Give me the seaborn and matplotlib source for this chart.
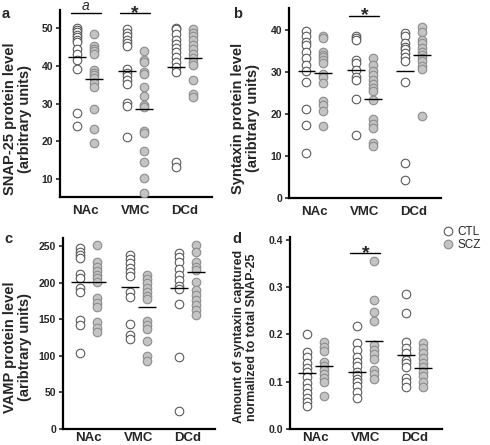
import matplotlib
matplotlib.use("Agg")
import matplotlib.pyplot as plt
from matplotlib.lines import Line2D
import seaborn as sns
import pandas as pd
import numpy as np

regions = ["NAc", "VMC", "DCd"]
groups = ["CTL", "SCZ"]

# a: SNAP-25, one list per region (NAc, VMC, DCd)
snap25_ctl = [
    [50.2, 49.5, 48.9, 48.3, 47.7, 47.0, 46.4, 44.4, 43.3, 41.7, 39.1, 27.6, 24.0],
    [49.7, 48.8, 47.9, 47.0, 46.1, 45.2, 39.1, 38.2, 37.3, 36.2, 35.2, 30.1, 29.3, 21.2],
    [50.2, 49.8, 48.6, 47.0, 45.9, 44.9, 43.7, 42.4, 41.1, 39.7, 38.4, 14.6, 13.3],
]
snap25_scz = [
    [48.4, 45.2, 44.6, 44.0, 43.3, 38.9, 38.2, 37.5, 36.9, 35.5, 34.5, 28.5, 23.4, 19.5],
    [43.9, 41.5, 41.1, 38.4, 37.8, 34.3, 32.0, 29.6, 29.2, 22.8, 22.1, 17.5, 14.4, 10.4, 6.4],
    [49.7, 48.8, 47.9, 46.8, 45.7, 44.4, 43.3, 42.1, 41.1, 40.2, 36.2, 32.7, 31.8],
]
snap25_mean_ctl = [42.4, 38.7, 39.7]
snap25_mean_scz = [36.5, 28.5, 42.0]

# b: syntaxin
stx_ctl = [
    [39.8, 38.6, 37.2, 36.4, 34.8, 33.3, 31.7, 30.1, 27.7, 21.2, 17.4, 10.7],
    [38.6, 38.0, 37.5, 32.9, 32.2, 30.5, 28.8, 28.1, 23.5, 15.0],
    [39.2, 38.6, 36.8, 36.0, 35.4, 34.5, 33.5, 32.5, 27.7, 8.3, 4.3],
]
stx_scz = [
    [38.6, 38.0, 34.8, 34.1, 33.5, 32.9, 32.2, 29.5, 28.8, 27.3, 23.0, 22.2, 20.8, 17.2],
    [33.3, 31.7, 30.1, 29.3, 28.1, 27.2, 26.2, 25.4, 23.4, 18.8, 17.7, 16.7, 13.1, 12.3],
    [40.6, 39.6, 37.5, 36.8, 35.7, 34.8, 34.1, 33.3, 32.5, 31.4, 30.6, 19.4],
]
stx_mean_ctl = [30.2, 30.4, 30.3]
stx_mean_scz = [29.8, 23.5, 34.0]

# c: VAMP
vamp_ctl = [
    [246.9, 242.2, 237.7, 233.2, 211.3, 206.7, 192.2, 187.6, 148.9, 142.1, 103.4],
    [237.7, 232.2, 226.4, 220.4, 214.9, 209.4, 186.7, 180.7, 143.0, 128.4, 122.9],
    [241, 235, 228, 219, 210, 203, 196, 192, 171.5, 98.6, 25],
]
vamp_scz = [
    [251.4, 228.6, 221.7, 215.8, 210.4, 205.9, 201.2, 178.6, 171.7, 167.1, 145.8, 138.4, 132.1],
    [210.4, 204.9, 199.0, 193.0, 187.6, 182.1, 177.6, 147.5, 142.1, 136.6, 120.2, 100.1, 92.9],
    [251, 242, 228.6, 221.7, 217, 201, 190, 183, 176, 169, 162, 155.5],
]
vamp_mean_ctl = [201, 194.4, 193.3]
vamp_mean_scz = [200.4, 167.1, 214.6]

# d: syntaxin captured / total SNAP-25
ratio_ctl = [
    [0.200, 0.162, 0.151, 0.139, 0.128, 0.120, 0.109, 0.097, 0.086, 0.076, 0.065, 0.058, 0.048],
    [0.218, 0.181, 0.167, 0.153, 0.142, 0.132, 0.121, 0.113, 0.106, 0.099, 0.090, 0.079, 0.065],
    [0.284, 0.244, 0.183, 0.170, 0.160, 0.146, 0.139, 0.130, 0.107, 0.100, 0.088],
]
ratio_scz = [
    [0.183, 0.174, 0.165, 0.142, 0.134, 0.125, 0.116, 0.107, 0.100, 0.069],
    [0.354, 0.272, 0.248, 0.228, 0.177, 0.167, 0.158, 0.148, 0.125, 0.116, 0.106],
    [0.181, 0.171, 0.160, 0.149, 0.139, 0.130, 0.121, 0.111, 0.100, 0.088],
]
ratio_mean_ctl = [0.119, 0.121, 0.157]
ratio_mean_scz = [0.133, 0.185, 0.128]

# significance marks: (label, region index, bar height)
sig_a = [("a", 0, 54.0), ("*", 1, 54.0)]
sig_b = [("*", 1, 43.3)]
sig_d = [("*", 1, 0.371)]

sns.set_style("ticks")
plt.rcParams["font.family"] = ["Liberation Sans", "DejaVu Sans"]
plt.rcParams["font.weight"] = "bold"

OFFSET = 0.17
styles = {
    "CTL": dict(color="white", edgecolor="#5a5a5a"),
    "SCZ": dict(color="#c4c4c4", edgecolor="#8c8c8c"),
}


def to_long(ctl, scz):
    rows = []
    for g, series in (("CTL", ctl), ("SCZ", scz)):
        for i, vals in enumerate(series):
            for v in vals:
                rows.append({"region": regions[i], "group": g, "value": v})
    df = pd.DataFrame(rows)
    df["x"] = df["region"].map({r: i for i, r in enumerate(regions)}) \
        + df["group"].map({"CTL": -OFFSET, "SCZ": OFFSET})
    return df


def draw_panel(ax, ctl, scz, mean_ctl, mean_scz, ylim, yticks, ylabel, label_size,
               label_xy, xpad, ticklabels=None, sig=()):
    df = to_long(ctl, scz)
    for g in groups:
        sub = df[df["group"] == g]
        sns.scatterplot(data=sub, x="x", y="value", ax=ax, s=38, linewidth=0.8,
                        legend=False, zorder=3, **styles[g])
    pos = np.arange(len(regions))
    ax.hlines(mean_ctl, pos - OFFSET - 0.18, pos - OFFSET + 0.18, color="black", lw=1, zorder=4)
    ax.hlines(mean_scz, pos + OFFSET - 0.18, pos + OFFSET + 0.18, color="black", lw=1, zorder=4)
    for label, i, h in sig:
        ax.plot([i - 0.3, i + 0.3], [h, h], color="black", lw=1, clip_on=False)
        if label == "*":
            ax.text(i, h, "*", ha="center", va="center", fontsize=14, fontweight="bold",
                    clip_on=False)
        else:
            ax.text(i, h, label, ha="center", va="bottom", fontsize=10, fontweight="normal",
                    style="italic", clip_on=False)
    ax.set_xlim(-0.52, 2.55)
    ax.set_ylim(*ylim)
    ax.set_yticks(yticks)
    if ticklabels is not None:
        ax.set_yticklabels(ticklabels)
    ax.set_xticks(pos)
    ax.set_xticklabels(regions, fontsize=9.5, fontweight="bold")
    ax.tick_params(axis="x", length=0, pad=xpad)
    ax.tick_params(axis="y", length=3, width=1.2, labelsize=7.5, pad=2)
    for t in ax.get_yticklabels():
        t.set_fontweight("bold")
    ax.set_xlabel("")
    ax.set_ylabel(ylabel, fontsize=label_size, fontweight="bold", linespacing=1.1)
    ax.yaxis.set_label_coords(*label_xy)
    for side in ("top", "right"):
        ax.spines[side].set_visible(False)
    for side in ("left", "bottom"):
        ax.spines[side].set_linewidth(1.6)
        ax.spines[side].set_color("black")


fig = plt.figure(figsize=(4.9, 4.45), dpi=100)
ax_a = fig.add_axes([0.1224, 0.557, 0.310, 0.420])
ax_b = fig.add_axes([0.590, 0.555, 0.310, 0.427])
ax_c = fig.add_axes([0.1286, 0.036, 0.310, 0.429])
ax_d = fig.add_axes([0.592, 0.036, 0.310, 0.431])

draw_panel(ax_a, snap25_ctl, snap25_scz, snap25_mean_ctl, snap25_mean_scz,
           (5.2, 54.8), [10, 20, 30, 40, 50],
           "SNAP-25 protein level\n(arbitrary units)", 10.5, (-0.185, 0.42), 6, sig=sig_a)
draw_panel(ax_b, stx_ctl, stx_scz, stx_mean_ctl, stx_mean_scz,
           (0, 45.2), [0, 10, 20, 30, 40],
           "Syntaxin protein level\n(aribtrary units)", 10.5, (-0.19, 0.42), 6, sig=sig_b)
draw_panel(ax_c, vamp_ctl, vamp_scz, vamp_mean_ctl, vamp_mean_scz,
           (0, 261), [0, 50, 100, 150, 200, 250],
           "VAMP protein level\n(aribtrary units)", 10.5, (-0.205, 0.43), 2)
draw_panel(ax_d, ratio_ctl, ratio_scz, ratio_mean_ctl, ratio_mean_scz,
           (0, 0.405), [0.0, 0.1, 0.2, 0.3, 0.4],
           "Amount of syntaxin captured\nnormalized to total SNAP-25", 9, (-0.21, 0.48), 2,
           ticklabels=["0.0", "0.1", "0.2", "0.3", "0.4"], sig=sig_d)

for letter, (x, y) in zip("abcd", [(0.004, 0.985), (0.475, 0.985), (0.008, 0.478), (0.475, 0.478)]):
    fig.text(x, y, letter, fontsize=10.5, fontweight="bold", ha="left", va="top")

handles = [Line2D([], [], marker="o", ls="", markersize=6.2, markerfacecolor=styles[g]["color"],
                  markeredgecolor=styles[g]["edgecolor"], markeredgewidth=0.8) for g in groups]
fig.legend(handles, groups, loc="upper left", bbox_to_anchor=(0.903, 0.492),
           frameon=False, handletextpad=0.3, labelspacing=0.1,
           handlelength=1.0, borderaxespad=0, borderpad=0,
           prop={"family": ["Liberation Sans"], "weight": "normal", "size": 8.5})

fig.savefig("out.png", dpi=100)
